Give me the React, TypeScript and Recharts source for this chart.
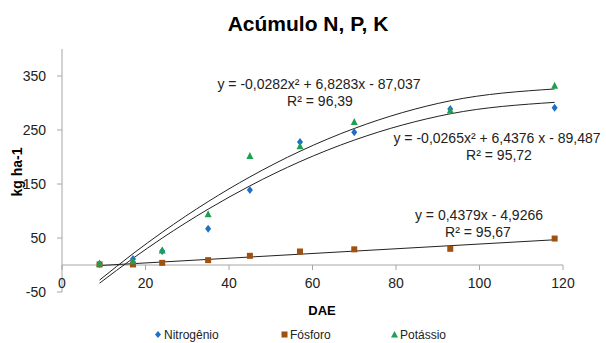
import { ComposedChart, Scatter, Line, XAxis, YAxis, ReferenceLine } from "recharts";

// dias após emergência (DAE)
const dae = [9, 17, 24, 35, 45, 57, 70, 93, 118];
const nitrogenio = [2, 11, 26, 67, 139, 228, 246, 289, 291];
const fosforo = [1, 1, 4, 9, 17, 25, 29, 30, 49];
const potassio = [3, 7, 27, 94, 202, 220, 265, 286, 332];

// trend values read at each DAE (from the printed equations)
const trendN = [-33.7, 12.3, 49.8, 103.4, 146.5, 191.4, 231.3, 280.0, 301.2];
const trendK = [-27.9, 20.9, 60.6, 117.4, 163.1, 210.6, 252.8, 304.1, 326.0];
const trendPx = [9, 118];
const trendP = [-1.0, 46.7];

const xTicks = [0, 20, 40, 60, 80, 100, 120];
const yTicks = [-50, 50, 150, 250, 350];

const toPoints = (xs: number[], ys: number[]) => xs.map((x, i) => ({ x, y: ys[i] }));

const W = 606;
const H = 343;
const PLOT_TOP = 49;
const PLOT_BOTTOM = 292;
const Y_MIN = -50;
const Y_MAX = 400;
const Y0 = PLOT_TOP + (Y_MAX / (Y_MAX - Y_MIN)) * (PLOT_BOTTOM - PLOT_TOP);

const AXIS = "#a6a6a6";
const BLUE = "#1f6fc4";
const BROWN = "#a0500f";
const GREEN = "#1fa050";

const Diamond = (p: any) => (
    <path d={`M${p.cx},${p.cy - 4}L${p.cx + 3},${p.cy}L${p.cx},${p.cy + 4}L${p.cx - 3},${p.cy}Z`} fill={BLUE} />
);
const Square = (p: any) => <rect x={p.cx - 3} y={p.cy - 3} width={6} height={6} fill={BROWN} />;
const Triangle = (p: any) => (
    <path d={`M${p.cx},${p.cy - 4}L${p.cx + 3.5},${p.cy + 3}L${p.cx - 3.5},${p.cy + 3}Z`} fill={GREEN} />
);

const XTick = ({ x, payload }: any) => (
    <g>
        <line x1={x} x2={x} y1={Y0} y2={Y0 + 5} stroke={AXIS} />
        <text x={x} y={Y0 + 23} textAnchor="middle" fontSize={14} fill="#222">
            {payload.value}
        </text>
    </g>
);

const label = (left: number, top: number, text: string, extra: any = {}) => (
    <div
        style={{
            position: "absolute",
            left,
            top,
            transform: "translate(-50%, -50%)",
            whiteSpace: "nowrap",
            fontSize: 14,
            color: "#222",
            ...extra,
        }}
    >
        {text}
    </div>
);

const legendItems = [
    { name: "Nitrogênio", left: 155, mark: <path d="M3,0L6,3.5L3,7L0,3.5Z" fill={BLUE} /> },
    { name: "Fósforo", left: 281, mark: <rect x={0.5} y={0.5} width={6} height={6} fill={BROWN} /> },
    { name: "Potássio", left: 391, mark: <path d="M3.5,0L7,6.5L0,6.5Z" fill={GREEN} /> },
];

export default function App() {
    return (
        <div
            style={{
                position: "absolute",
                left: 0,
                top: 0,
                width: W,
                height: H,
                background: "#fff",
                fontFamily: "'Liberation Sans', Arial, sans-serif",
            }}
        >
            <ComposedChart width={W} height={H} margin={{ top: PLOT_TOP, right: 43, bottom: 21, left: 12 }}>
                <XAxis
                    type="number"
                    dataKey="x"
                    domain={[0, 120]}
                    ticks={xTicks}
                    axisLine={false}
                    tickLine={false}
                    height={30}
                    tick={<XTick />}
                />
                <YAxis
                    type="number"
                    domain={[Y_MIN, Y_MAX]}
                    ticks={yTicks}
                    width={50}
                    stroke={AXIS}
                    tickSize={5}
                    tickMargin={11}
                    tick={{ fontSize: 14, fill: "#222" }}
                />
                <ReferenceLine y={0} stroke={AXIS} />
                <Line data={toPoints(dae, trendK)} dataKey="y" type="monotone" stroke="#222" strokeWidth={1} dot={false} isAnimationActive={false} />
                <Line data={toPoints(dae, trendN)} dataKey="y" type="monotone" stroke="#222" strokeWidth={1} dot={false} isAnimationActive={false} />
                <Line data={toPoints(trendPx, trendP)} dataKey="y" type="linear" stroke="#222" strokeWidth={1} dot={false} isAnimationActive={false} />
                <Scatter name="Nitrogênio" data={toPoints(dae, nitrogenio)} dataKey="y" shape={Diamond} isAnimationActive={false} />
                <Scatter name="Fósforo" data={toPoints(dae, fosforo)} dataKey="y" shape={Square} isAnimationActive={false} />
                <Scatter name="Potássio" data={toPoints(dae, potassio)} dataKey="y" shape={Triangle} isAnimationActive={false} />
            </ComposedChart>

            {label(308, 24, "Acúmulo N, P, K", { fontSize: 21, fontWeight: "bold", color: "#000" })}
            {label(17, 172, "kg ha-1", { fontSize: 14, fontWeight: "bold", color: "#000", transform: "translate(-50%, -50%) rotate(-90deg)" })}
            {label(322, 310, "DAE", { fontSize: 13, fontWeight: "bold", color: "#000" })}

            {label(319, 84, "y = -0,0282x² + 6,8283x - 87,037")}
            {label(320, 101, "R² = 96,39")}
            {label(497, 138, "y = -0,0265x² + 6,4376 x - 89,487")}
            {label(499, 155, "R² = 95,72")}
            {label(479, 215, "y = 0,4379x - 4,9266")}
            {label(478, 232, "R² = 95,67")}

            {legendItems.map((it) => (
                <div
                    key={it.name}
                    style={{ position: "absolute", left: it.left, top: 327, display: "flex", alignItems: "center", fontSize: 12, color: "#222", lineHeight: "16px" }}
                >
                    <svg width={8} height={8} style={{ marginRight: 1 }}>
                        {it.mark}
                    </svg>
                    {it.name}
                </div>
            ))}
        </div>
    );
}
